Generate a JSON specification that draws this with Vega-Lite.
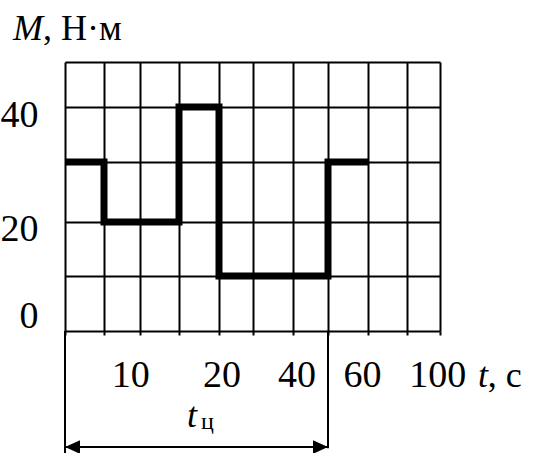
{
  "$schema": "https://vega.github.io/schema/vega-lite/v6.json",
  "width": 375,
  "height": 269,
  "autosize": "none",
  "padding": {"left": 65, "top": 62, "right": 93, "bottom": 122},
  "background": "white",
  "config": {
    "view": {"stroke": null},
    "text": {"font": "Liberation Serif", "fontSize": 38, "color": "black"}
  },
  "datasets": {
    "step": [
      {"t": 0, "M": 30},
      {"t": 1, "M": 20},
      {"t": 3, "M": 40},
      {"t": 4, "M": 10},
      {"t": 7, "M": 30},
      {"t": 8, "M": 30}
    ],
    "rules": [
      {"x": 0, "x2": 0, "y": 0, "y2": -23},
      {"x": 7, "x2": 7, "y": 0, "y2": -21.3},
      {"x": 0, "x2": 7, "y": -21.1, "y2": -21.1}
    ],
    "arrows": [
      {"x": 0, "y": -21.1, "dir": "left"},
      {"x": 7, "y": -21.1, "dir": "right"}
    ],
    "labels": [
      {"text": "40", "x": -0.68, "y": 36.3, "role": "ylab"},
      {"text": "20", "x": -0.68, "y": 16.5, "role": "ylab"},
      {"text": "0", "x": -0.68, "y": 0.55, "role": "ylab"},
      {"text": "10", "x": 1.744, "y": -10.18, "role": "xlab"},
      {"text": "20", "x": 4.088, "y": -10.18, "role": "xlab"},
      {"text": "40", "x": 6.114, "y": -10.18, "role": "xlab"},
      {"text": "60", "x": 7.86, "y": -10.18, "role": "xlab"},
      {"text": "100", "x": 9.93, "y": -10.18, "role": "xlab"},
      {"text": "t", "x": 11.15, "y": -10.18, "role": "italic"},
      {"text": ", c", "x": 11.45, "y": -10.18, "role": "upright"},
      {"text": "M", "x": -1.333, "y": 55.0, "role": "italic"},
      {"text": ", Н·м", "x": -0.564, "y": 55.0, "role": "upright"},
      {"text": "t", "x": 3.2, "y": -17.45, "role": "italic"},
      {"text": "ц", "x": 3.55, "y": -17.82, "role": "sub"}
    ]
  },
  "encoding": {
    "x": {
      "field": "x",
      "type": "quantitative",
      "scale": {"domain": [0, 1, 2, 3, 4, 5, 6, 7, 8, 9, 10], "range": [0, 39, 75, 114, 154, 188, 228, 263, 303, 342, 375], "nice": false, "zero": false},
      "axis": {"values": [0, 1, 2, 3, 4, 5, 6, 7, 8, 9, 10], "grid": true, "gridColor": "black", "gridWidth": 2, "gridOpacity": 1, "labels": false, "ticks": true, "tickSize": 4, "tickWidth": 2, "tickColor": "black", "domain": false, "title": null}
    },
    "y": {
      "field": "y",
      "type": "quantitative",
      "scale": {"domain": [0, 10, 20, 30, 40, 50], "range": [269, 214, 160, 100, 45, 0], "nice": false, "zero": false},
      "axis": {"values": [0, 10, 20, 30, 40, 50], "grid": true, "gridColor": "black", "gridWidth": 2, "gridOpacity": 1, "labels": false, "ticks": false, "domain": false, "title": null}
    }
  },
  "layer": [
    {
      "data": {"name": "step"},
      "mark": {"type": "line", "interpolate": "step-after", "color": "black", "strokeWidth": 7, "strokeJoin": "miter", "strokeCap": "butt"},
      "encoding": {
        "x": {"field": "t", "type": "quantitative"},
        "y": {"field": "M", "type": "quantitative"}
      }
    },
    {
      "data": {"name": "rules"},
      "mark": {"type": "rule", "color": "black", "strokeWidth": 2},
      "encoding": {
        "x2": {"field": "x2"},
        "y2": {"field": "y2"}
      }
    },
    {
      "data": {"name": "arrows"},
      "mark": {"type": "point", "filled": true, "color": "black", "opacity": 1, "size": 900, "strokeWidth": 0},
      "encoding": {
        "shape": {"field": "dir", "type": "nominal", "scale": {"domain": ["left", "right"], "range": ["M0,0L1,-0.45L1,0.45Z", "M0,0L-1,-0.45L-1,0.45Z"]}, "legend": null}
      }
    },
    {
      "data": {"name": "labels"},
      "transform": [{"filter": "datum.role === 'ylab'"}],
      "mark": {"type": "text", "align": "right", "baseline": "alphabetic"},
      "encoding": {"text": {"field": "text"}}
    },
    {
      "data": {"name": "labels"},
      "transform": [{"filter": "datum.role === 'xlab'"}],
      "mark": {"type": "text", "align": "center", "baseline": "alphabetic"},
      "encoding": {"text": {"field": "text"}}
    },
    {
      "data": {"name": "labels"},
      "transform": [{"filter": "datum.role === 'upright'"}],
      "mark": {"type": "text", "align": "left", "baseline": "alphabetic", "fontSize": 36},
      "encoding": {"text": {"field": "text"}}
    },
    {
      "data": {"name": "labels"},
      "transform": [{"filter": "datum.role === 'italic'"}],
      "mark": {"type": "text", "align": "left", "baseline": "alphabetic", "fontStyle": "italic", "fontSize": 36},
      "encoding": {"text": {"field": "text"}}
    },
    {
      "data": {"name": "labels"},
      "transform": [{"filter": "datum.role === 'sub'"}],
      "mark": {"type": "text", "align": "left", "baseline": "alphabetic", "fontSize": 24},
      "encoding": {"text": {"field": "text"}}
    }
  ]
}
